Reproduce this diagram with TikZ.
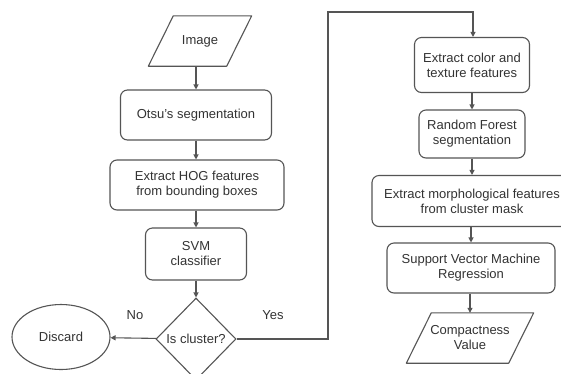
\documentclass[tikz,border=0pt]{standalone}
\usepackage{fontspec}
\setmainfont{Liberation Sans}
\usetikzlibrary{shapes.geometric,arrows.meta}
\definecolor{ln}{HTML}{555555}
\definecolor{tx}{HTML}{333333}
\tikzset{
  every node/.style={font=\fontsize{13}{15}\selectfont, text=tx, align=center, inner sep=0pt},
  procbox/.style={draw=ln, line width=1.1pt, rounded corners=7pt},
  iotext/.style={minimum height=50pt},
  decide/.style={draw=ln, line width=1.1pt, diamond, minimum width=80pt, minimum height=82pt},
  term/.style={draw=ln, line width=1.1pt, ellipse, minimum width=98pt, minimum height=65pt},
  outline/.style={draw=ln, line width=1.1pt, line join=round},
  flow/.style={draw=ln, line width=1.1pt, -{Triangle[length=5pt,width=5pt]}},
}
% parallelogram around a node: #1 node name, #2 half slant
\newcommand\slantbox[2]{%
  \draw[outline] ([xshift=-#2]#1.south west) -- ([xshift=-#2]#1.south east)
    -- ([xshift=#2]#1.north east) -- ([xshift=#2]#1.north west) -- cycle;}
\begin{document}
\begin{tikzpicture}[x=1pt,y=-1pt]
\useasboundingbox (0,0) rectangle (561,373);
\fill[white] (0,0) rectangle (561,373);
% left column
\node[iotext, minimum width=78pt] (img) at (200,41) {Image};
\slantbox{img}{12.5pt}
\node[procbox, minimum width=151pt, minimum height=50pt] (otsu) at (196,115) {Otsu's segmentation};
\node[procbox, minimum width=174pt, minimum height=50pt] (hog) at (197,185) {Extract HOG features\\from bounding boxes};
\node[procbox, minimum width=101pt, minimum height=52pt] (svm) at (196,254) {SVM\\classifier};
\node[decide] (dec) at (196,339) {Is cluster?};
\node[term] (disc) at (61,337) {Discard};
% right column
\node[procbox, minimum width=115pt, minimum height=55pt] (ctf) at (472,65) {Extract color and\\texture features};
\node[procbox, minimum width=106pt, minimum height=48pt] (rf) at (472,134) {Random Forest\\segmentation};
\node[procbox, minimum width=200pt, minimum height=51pt] (morph) at (472,201) {Extract morphological features\\from cluster mask};
\node[procbox, minimum width=168pt, minimum height=50pt] (svr) at (471,268) {Support Vector Machine\\Regression};
\node[iotext, minimum width=102pt] (cv) at (470,338) {Compactness\\Value};
\slantbox{cv}{12.5pt}
% labels
\node (no) at (135,315) {No};
\node (yes) at (273,315) {Yes};
% connectors
\coordinate (c1) at (328,339);
\coordinate (c2) at (328,12);
\coordinate (c3) at (473,12);
\draw[flow] (img.south -| otsu.north) -- (otsu);
\draw[flow] (otsu) -- (otsu |- hog.north);
\draw[flow] (hog.south -| svm) -- (svm);
\draw[flow] (svm) -- (dec);
\draw[flow] (dec) -- (disc);
\draw[flow] (dec.east) -- (c1) -- (c2) -- (c3) -- (ctf.north -| c3);
\draw[flow] (ctf) -- (rf);
\draw[flow] (rf) -- (morph.north -| rf);
\draw[flow] (morph.south -| svr) -- (svr);
\draw[flow] (svr.south -| cv) -- (cv);
\end{tikzpicture}
\end{document}
